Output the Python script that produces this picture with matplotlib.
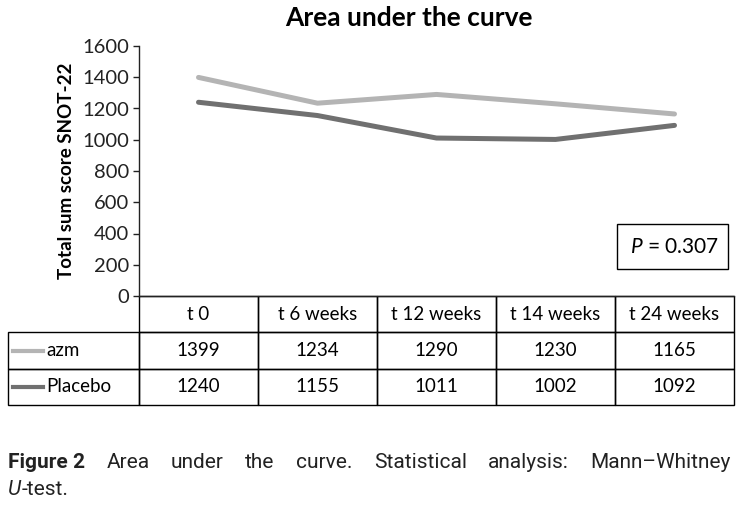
import numpy as np
import matplotlib
matplotlib.use("Agg")
import matplotlib.pyplot as plt
from matplotlib.patches import Rectangle

# data
time_points = ["t 0", "t 6 weeks", "t 12 weeks", "t 14 weeks", "t 24 weeks"]
azm = [1399, 1234, 1290, 1230, 1165]
placebo = [1240, 1155, 1011, 1002, 1092]
series_names = ["azm", "Placebo"]
series_colors = ["#b4b4b4", "#707070"]
y_ticks = [0, 200, 400, 600, 800, 1000, 1200, 1400, 1600]

plt.rcParams['font.family'] = ['Lato', 'DejaVu Sans']
plt.rcParams['mathtext.fontset'] = 'custom'
plt.rcParams['mathtext.it'] = 'Lato:italic'
plt.rcParams['mathtext.rm'] = 'Lato'

W, H = 740, 519
fig = plt.figure(figsize=(W / 100, H / 100), dpi=100)
fig.patch.set_facecolor("white")

# axes box in pixels: x 139..734, y 46..296
ax = fig.add_axes([139 / W, 1 - 296 / H, 595 / W, 250 / H])
x = np.arange(len(time_points))
for vals, col in zip([azm, placebo], series_colors):
    ax.plot(x, vals, color=col, lw=3.6, solid_capstyle="round", solid_joinstyle="round")

ax.set_xlim(-0.5, len(time_points) - 0.5)
ax.set_ylim(0, 1600)
ax.set_yticks(y_ticks)
ax.set_xticks([])
ax.tick_params(axis="y", direction="out", length=4, width=1, labelsize=14.5, colors="#222222", pad=3)
for s in ["top", "right"]:
    ax.spines[s].set_visible(False)
for s in ["left", "bottom"]:
    ax.spines[s].set_linewidth(1.0)
    ax.spines[s].set_color("#222222")
ax.set_ylabel("Total sum score SNOT-22", fontsize=13.5, fontweight="bold", labelpad=5)

fig.text(409 / W, 1 - 18 / H, "Area under the curve", ha="center", va="center",
         fontsize=19, fontweight="bold")

# p-value box
ax.add_patch(Rectangle((0.803, 0.108), 0.187, 0.18, transform=ax.transAxes,
                       fill=False, ec="black", lw=1.0))
ax.text(0.975, 0.197, r"$P$ = 0.307", transform=ax.transAxes, ha="right", va="center",
        fontsize=15)

# data table under the axes
cell_text = [[""] + time_points,
             [""] + [str(v) for v in azm],
             [""] + [str(v) for v in placebo]]
col_w = [131] + [119] * len(time_points)
tbl = ax.table(cellText=cell_text, colWidths=[c / sum(col_w) for c in col_w],
               cellLoc="center", bbox=[-131 / 595, -109 / 250, 726 / 595, 109 / 250])
tbl.auto_set_font_size(False)
tbl.set_fontsize(13.5)
for (r, c), cell in tbl.get_celld().items():
    cell.set_edgecolor("black")
    cell.set_linewidth(1.0)
    cell.set_facecolor("none")
tbl[0, 0].visible_edges = ""

row_h = 109 / 250 / 3
lx0 = -126 / 595
for i, (name, col) in enumerate(zip(series_names, series_colors)):
    yc = -row_h * (i + 1.5)
    ax.plot([lx0, lx0 + 30 / 595], [yc, yc], transform=ax.transAxes, color=col,
            lw=3.0, clip_on=False)
    ax.text(lx0 + 33 / 595, yc, name, transform=ax.transAxes, ha="left", va="center",
            fontsize=13.5)

# caption, justified over first line
cap_font = ["Roboto", "DejaVu Sans"]
words = [("Figure 2", "bold"), ("Area", "normal"), ("under", "normal"), ("the", "normal"),
         ("curve.", "normal"), ("Statistical", "normal"), ("analysis:", "normal"),
         ("Mann\u2013Whitney", "normal")]
fig.canvas.draw()
r = fig.canvas.get_renderer()
txts = []
for w, wt in words:
    t = fig.text(0, 1 - 468 / H, w, fontsize=15, fontweight=wt, family=cap_font,
                 ha="left", va="baseline", color="#222222")
    txts.append(t)
widths = [t.get_window_extent(r).width for t in txts]
x0, x1 = 8, 731
gap = (x1 - x0 - sum(widths)) / (len(words) - 1)
xp = x0
for t, wd in zip(txts, widths):
    t.set_x(xp / W)
    xp += wd + gap
u = fig.text(8 / W, 1 - 495 / H, "U", fontsize=15, family=cap_font, style="italic",
             ha="left", va="baseline", color="#222222")
uw = u.get_window_extent(r).width
fig.text((8 + uw + 1) / W, 1 - 495 / H, "-test.", fontsize=15, family=cap_font,
         ha="left", va="baseline", color="#222222")

fig.savefig("out.png", dpi=100)
